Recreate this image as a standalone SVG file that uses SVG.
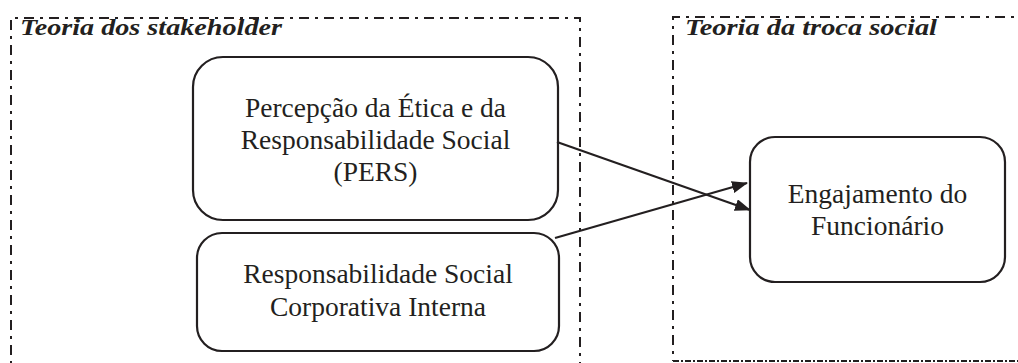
<svg xmlns="http://www.w3.org/2000/svg" width="1018" height="363" viewBox="0 0 1018 363">
<style>
.region{fill:none;stroke:#231f20;stroke-width:2;stroke-dasharray:10 6 3 6}
.region-b{fill:none;stroke:#231f20;stroke-width:2;stroke-dasharray:6 2 2 2}
.box{fill:#fff;stroke:#231f20;stroke-width:2.2}
.lbl{font-family:"Liberation Serif","Times New Roman",serif;font-size:27.5px;fill:#231f20;text-anchor:middle}
.title{font-family:"Liberation Serif","Times New Roman",serif;font-size:24px;font-weight:bold;font-style:italic;fill:#231f20}
.conn{stroke:#231f20;stroke-width:2.2;fill:none}
</style>
<defs>
<marker id="arr" viewBox="0 0 16 12" refX="15" refY="6" markerWidth="16" markerHeight="12" markerUnits="userSpaceOnUse" orient="auto">
<path d="M0,0 L16,6 L0,12 Z" fill="#231f20"/>
</marker>
</defs>
<g id="region-stakeholder">
<path class="region" d="M11,380 V18 H580 V380"/>
<text class="title" x="20" y="35" textLength="262" lengthAdjust="spacingAndGlyphs">Teoria dos stakeholder</text>
</g>
<g id="region-troca">
<path class="region" d="M1030,17 H673 V361"/>
<path class="region-b" d="M673,361 H1030"/>
<text class="title" x="685" y="35" textLength="252" lengthAdjust="spacingAndGlyphs">Teoria da troca social</text>
</g>
<g id="node-pers">
<rect class="box" x="193" y="57" width="365" height="163" rx="30" ry="30"/>
<text class="lbl" x="375.5" y="117">Percepção da Ética e da</text>
<text class="lbl" x="375.5" y="149">Responsabilidade Social</text>
<text class="lbl" x="375.5" y="181">(PERS)</text>
</g>
<g id="node-rsci">
<rect class="box" x="197" y="233" width="362" height="118" rx="25" ry="25"/>
<text class="lbl" x="378" y="283">Responsabilidade Social</text>
<text class="lbl" x="378" y="316">Corporativa Interna</text>
</g>
<g id="node-engajamento">
<rect class="box" x="750" y="137" width="255" height="145" rx="25" ry="25"/>
<text class="lbl" x="877.5" y="203">Engajamento do</text>
<text class="lbl" x="877.5" y="235">Funcionário</text>
</g>
<g id="connectors">
<line class="conn" x1="557" y1="142" x2="750" y2="210" marker-end="url(#arr)"/>
<line class="conn" x1="555" y1="238" x2="747" y2="183" marker-end="url(#arr)"/>
</g>
</svg>
